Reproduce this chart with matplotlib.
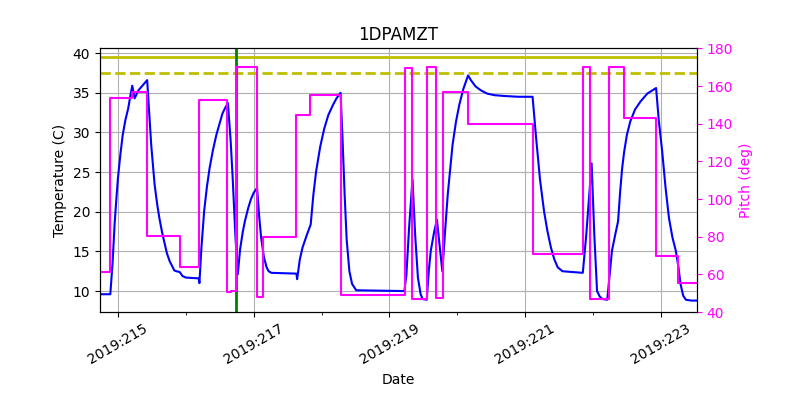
import numpy as np
import matplotlib
matplotlib.use("Agg")
import matplotlib.pyplot as plt

# modelled temperature (day of year 2019, deg C)
temp_t = [214.735, 214.887, 214.92, 214.95, 214.975, 215.0, 215.035, 215.07, 215.11, 215.15,
          215.18, 215.21, 215.245, 215.3, 215.37, 215.43, 215.46, 215.49, 215.54, 215.58,
          215.61, 215.65, 215.69, 215.72, 215.76, 215.80, 215.83, 215.86, 215.91, 215.95,
          216.0, 216.19, 216.2, 216.23, 216.27, 216.31, 216.35, 216.40, 216.45, 216.50,
          216.54, 216.58, 216.62, 216.66, 216.69, 216.73, 216.765, 216.80, 216.84, 216.87,
          216.92, 216.96, 217.0, 217.05, 217.08, 217.11, 217.15, 217.19, 217.22, 217.26,
          217.63, 217.64, 217.68, 217.72, 217.78, 217.84, 217.88, 217.92, 217.98, 218.04,
          218.10, 218.17, 218.22, 218.28, 218.31, 218.34, 218.37, 218.41, 218.45, 218.51,
          219.22, 219.25, 219.29, 219.34, 219.38, 219.42, 219.46, 219.49, 219.55, 219.58,
          219.61, 219.66, 219.70, 219.78, 219.82, 219.86, 219.90, 219.93, 219.98, 220.03,
          220.09, 220.16, 220.20, 220.27, 220.35, 220.44, 220.55, 220.69, 220.9, 221.11,
          221.16, 221.22, 221.28, 221.33, 221.38, 221.43, 221.48, 221.55, 221.85, 221.9,
          221.94, 221.98, 222.02, 222.06, 222.1, 222.14, 222.21, 222.24, 222.28, 222.33,
          222.37, 222.40, 222.43, 222.46, 222.50, 222.55, 222.62, 222.70, 222.80, 222.93,
          222.97, 223.02, 223.07, 223.12, 223.17, 223.22, 223.26, 223.29, 223.33, 223.37,
          223.45, 223.53]
temp_v = [9.6, 9.6, 13.5, 18.4, 21.5, 24.3, 27.2, 29.7, 31.6, 33.0,
          34.5, 35.9, 34.3, 35.3, 36.0, 36.6, 32.5, 28.4, 23.4, 20.8,
          19.2, 17.4, 15.9, 14.8, 13.8, 13.1, 12.6, 12.5, 12.4, 11.9,
          11.7, 11.6, 11.0, 15.5, 20.1, 23.1, 25.5, 27.8, 29.7, 31.2,
          32.4, 33.1, 33.7, 29.0, 24.3, 17.0, 12.1, 15.3, 17.5, 18.8,
          20.5, 21.6, 22.4, 23.0, 19.5, 16.7, 14.3, 13.0, 12.5, 12.3,
          12.2, 11.5, 14.0, 15.5, 17.0, 18.4, 22.2, 25.1, 28.2, 30.5,
          32.2, 33.5, 34.3, 35.0, 29.0, 22.2, 16.5, 12.5, 10.9, 10.1,
          10.0, 12.0, 18.0, 24.1, 17.0, 11.7, 9.6, 9.0, 8.9, 12.5,
          15.1, 17.5, 19.0, 12.5, 17.5, 22.2, 25.8, 28.4, 31.3, 33.5,
          35.5, 37.2, 36.6, 35.8, 35.3, 34.9, 34.7, 34.6, 34.5, 34.5,
          29.5, 24.0, 20.0, 17.5, 15.5, 14.0, 13.0, 12.5, 12.3, 17.0,
          21.5, 26.1, 17.0, 10.0, 9.3, 9.0, 8.9, 11.5, 15.1, 17.2,
          18.8, 22.5, 25.5, 27.6, 29.7, 31.4, 32.9, 33.9, 34.9, 35.6,
          31.5, 27.6, 23.0, 19.2, 16.8, 15.1, 13.0, 10.9, 9.4, 8.9,
          8.8, 8.8]

# pitch (deg), held constant after each change time
pitch_t = [214.735, 214.887, 215.21, 215.43, 215.91, 216.19, 216.61, 216.66, 216.745, 217.05,
           217.14, 217.62, 217.83, 218.28, 219.235, 219.33, 219.56, 219.69, 219.79, 220.16,
           221.11, 221.85, 221.95, 222.23, 222.45, 222.93, 223.26, 223.53]
pitch_v = [61.1, 153.8, 156.8, 80.1, 64.1, 152.4, 50.4, 51.0, 170.1, 48.1,
           79.9, 144.8, 155.4, 49.0, 169.7, 46.9, 170.1, 47.4, 156.6, 140.0,
           71.0, 170.1, 46.9, 169.9, 143.0, 69.7, 55.2, 55.2]

planning_limit = 39.5
caution_limit = 37.5
now_day = 216.735

tick_days = [215, 217, 219, 221, 223]
tick_labels = ['2019:215', '2019:217', '2019:219', '2019:221', '2019:223']

fig, ax = plt.subplots(figsize=(8, 4), dpi=100)
fig.subplots_adjust(left=0.125, right=0.871, top=0.879, bottom=0.22)

ax.plot(temp_t, temp_v, color='b', lw=1.5)
ax.axhline(planning_limit, color='y', lw=2)
ax.axhline(caution_limit, color='y', lw=2, ls='--')
ax.axvline(now_day, color='g', lw=2)
ax.set_xlim(214.735, 223.53)
ax.set_ylim(7.36, 40.6)
ax.set_xticks(tick_days)
ax.set_xticklabels(tick_labels, rotation=30, ha='center')
ax.set_xticks(np.arange(215, 224, 1), minor=True)
ax.grid(True)
ax.set_title('1DPAMZT')
ax.set_xlabel('Date')
ax.set_ylabel('Temperature (C)')

ax2 = ax.twinx()
ax2.plot(pitch_t, pitch_v, color='magenta', lw=1.5, drawstyle='steps-post')
ax2.set_ylim(40, 180)
ax2.set_ylabel('Pitch (deg)', color='magenta')
ax2.tick_params(axis='y', colors='magenta')
ax2.set_xlim(214.735, 223.53)

fig.savefig('out.png')
